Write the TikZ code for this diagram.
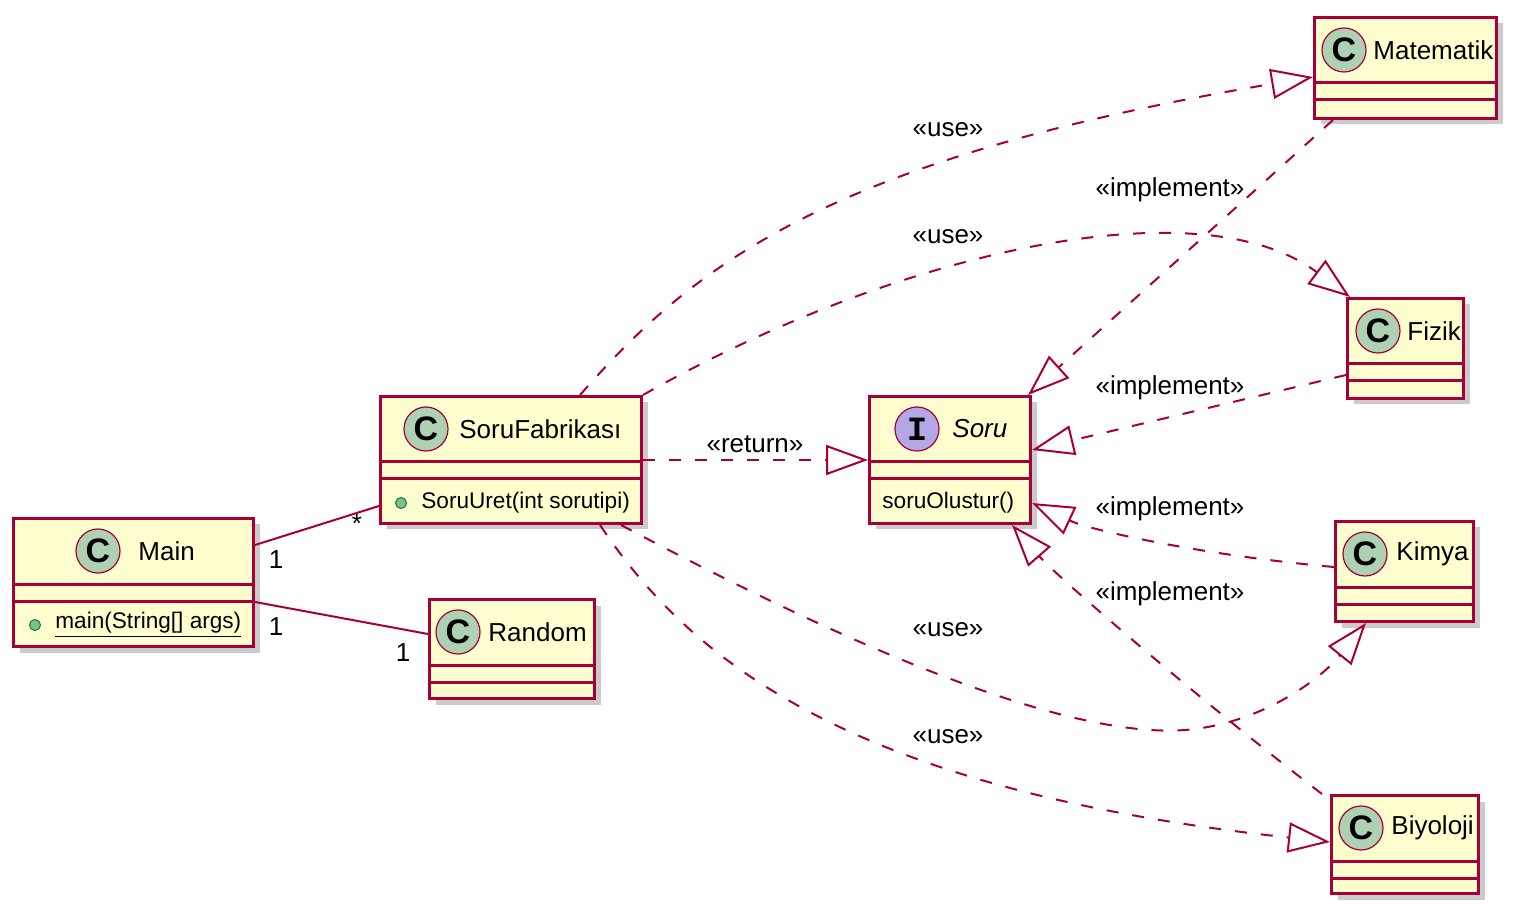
\documentclass[tikz,border=0pt]{standalone}
\usepackage{fontspec}
\setmainfont{Liberation Sans}
\setmonofont{Liberation Mono}
\usetikzlibrary{arrows.meta, positioning, calc, shadows}

\definecolor{umlred}{HTML}{A80036}
\definecolor{umlfill}{HTML}{FEFECE}
\definecolor{umlgreen}{HTML}{ADD1B2}
\definecolor{umlpurple}{HTML}{B4A7E5}
\definecolor{pubfill}{HTML}{84BE84}
\definecolor{pubdraw}{HTML}{038048}

% box, two compartment lines, icon and title of one class
\newcommand{\umlclass}[9]{%
    \node[classbox, minimum width=#4*0.5pt, minimum height=#5*0.5pt] (#1) at (#2,#3) {};
    \draw[sepline] ($(#1.north west)+(0,67)$) -- ($(#1.north east)+(0,67)$);
    \draw[sepline] ($(#1.north west)+(0,84)$) -- ($(#1.north east)+(0,84)$);
    \node[icon#8] (#1-icon) at (#6,#3+34) {#8};
    \node[classname] (#1-name) at (#7,#3+34) {#9};
}

\begin{document}
\begin{tikzpicture}[x=0.5pt, y=-0.5pt,
    classbox/.style={draw=umlred, fill=umlfill, line width=1.5pt,
        anchor=north west, inner sep=0pt,
        drop shadow={shadow xshift=3pt, shadow yshift=-3pt,
            fill=black!45, opacity=0.45}},
    sepline/.style={draw=umlred, line width=1.5pt},
    iconC/.style={circle, draw=umlred, fill=umlgreen, line width=0.6pt,
        minimum size=22pt, inner sep=0pt,
        font=\fontsize{17}{17}\selectfont\bfseries},
    iconI/.style={iconC, fill=umlpurple,
        font=\fontsize{17}{17}\selectfont\ttfamily\bfseries},
    classname/.style={anchor=west, inner sep=0pt,
        font=\fontsize{13}{15}\selectfont},
    member/.style={anchor=west, inner sep=0pt,
        font=\fontsize{11.3}{13}\selectfont},
    pubdot/.style={circle, draw=pubdraw, fill=pubfill, line width=0.5pt,
        minimum size=5.5pt, inner sep=0pt},
    assoc/.style={draw=umlred, line width=1pt},
    dep/.style={assoc, dash pattern=on 6pt off 7pt,
        -{Triangle[open, length=21pt, width=15pt]}},
    lbl/.style={font=\fontsize{13}{15}\selectfont, inner sep=0pt}]

    \useasboundingbox (0,0) rectangle (1516,914);

    \umlclass{main}{12}{517}{240}{128}{98}{138}{C}{Main}
    \umlclass{fab}{379}{395}{261}{127}{426}{459}{C}{SoruFabrikası}
    \umlclass{ran}{428}{598}{165}{99}{458}{488}{C}{Random}
    \umlclass{soru}{868}{395}{161}{127}{917}{952}{I}{\itshape Soru}
    \umlclass{mat}{1313}{16}{182}{101}{1344}{1373}{C}{Matematik}
    \umlclass{fiz}{1346}{297}{116}{100}{1378}{1407}{C}{Fizik}
    \umlclass{kim}{1334}{520}{138}{100}{1365}{1396}{C}{Kimya}
    \umlclass{biy}{1330}{794}{147}{98}{1361}{1391}{C}{Biyoloji}

    % members
    \node[pubdot] (main-dot) at (35,625) {};
    \node[member] (main-m) at (55,625) {\underline{main(String[] args)}};
    \node[pubdot] (fab-dot) at (401,503) {};
    \node[member] (fab-m) at (421,503) {SoruUret(int sorutipi)};
    \node[member] (soru-m) at (882,503) {soruOlustur()};

    % associations
    \draw[assoc] ($(main.north east)+(0,28)$) -- ($(fab.south west)+(0,-19)$);
    \draw[assoc] ($(main.north east)+(0,85)$) -- ($(ran.north west)+(0,36)$);
    \node[lbl] (m-fab1) at (276,560) {1};
    \node[lbl] (m-fab2) at (357,524) {*};
    \node[lbl] (m-ran1) at (276,627) {1};
    \node[lbl] (m-ran2) at (403,653) {1};

    % use
    \draw[dep] ($(fab.north west)+(201,0)$) .. controls (690,270) and (820,160) .. ($(mat.north west)+(0,61)$);
    \draw[dep] (fab.north east) .. controls (900,250) and (1200,185) .. ($(fiz.north west)+(4,0)$);
    \draw[dep] ($(fab.south west)+(242,0)$) .. controls (800,620) and (1050,740) .. (1185,730)
        .. controls (1260,724) and (1320,680) .. ($(kim.south west)+(32,0)$);
    \draw[dep] ($(fab.south west)+(221,0)$) .. controls (690,660) and (850,790) .. ($(biy.north west)+(0,48)$);
    \draw[dep] ($(fab.north east)+(0,65)$) -- ($(soru.north west)+(0,65)$);
    \node[lbl] (use-mat) at (948,130) {«use»};
    \node[lbl] (use-fiz) at (948,237) {«use»};
    \node[lbl] (use-kim) at (948,630) {«use»};
    \node[lbl] (use-biy) at (948,737) {«use»};
    \node[lbl] (ret) at (755,444) {«return»};

    % implement
    \draw[dep] ($(mat.south west)+(20,0)$) -- ($(soru.north east)+(-4,0)$);
    \draw[dep] ($(fiz.north west)+(0,78)$) -- ($(soru.north east)+(0,55)$);
    \draw[dep] ($(kim.north west)+(0,47)$) .. controls (1200,555) and (1090,530) .. ($(soru.north east)+(0,108)$);
    \draw[dep] ($(biy.north west)+(-8,0)$) .. controls (1222,718) and (1060,580) .. ($(soru.south east)+(-20,0)$);
    \node[lbl] (imp-mat) at (1170,190) {«implement»};
    \node[lbl] (imp-fiz) at (1170,388) {«implement»};
    \node[lbl] (imp-kim) at (1170,509) {«implement»};
    \node[lbl] (imp-biy) at (1170,594) {«implement»};

\end{tikzpicture}
\end{document}
